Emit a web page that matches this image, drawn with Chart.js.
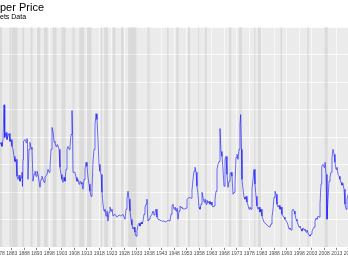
<!DOCTYPE html>
<html>
<head>
<meta charset="utf-8">
<script src="https://cdn.jsdelivr.net/npm/chart.js@4/dist/chart.umd.min.js"></script>
<style>
html, body { margin: 0; padding: 0; width: 348px; height: 268px; overflow: hidden; background: #fff; }
#wrap { position: absolute; left: -40px; top: 0; width: 420px; height: 268px; }
</style>
</head>
<body>
<div id="wrap"><canvas id="chart" width="420" height="268"></canvas></div>
<script>
// the picture is a crop of a wider chart: the canvas sticks out 40px to the left
var CROP_LEFT = 40;

var titleText = "Copper Price";
var titleHidden = "Cop";
var subtitleText = "Commodity Markets Data";
var subtitleHidden = "Commodity Mark";

var years = [
    1878.32, 1878.72, 1879.12, 1879.52, 1879.92, 1880.12, 1880.32, 1880.72, 1881.12, 1881.52,
    1881.92, 1882.32, 1882.72, 1883.12, 1883.52, 1883.92, 1884.32, 1884.72, 1885.12, 1885.52,
    1885.92, 1886.32, 1886.72, 1887.12, 1887.32, 1887.52, 1887.72, 1888.32, 1888.72, 1889.12,
    1889.32, 1889.52, 1889.92, 1890.32, 1890.72, 1891.12, 1891.52, 1891.92, 1892.32, 1892.72,
    1893.12, 1893.52, 1894.32, 1894.72, 1895.12, 1895.92, 1896.32, 1897.12, 1897.52, 1897.92,
    1898.32, 1898.72, 1899.12, 1899.52, 1899.92, 1900.32, 1900.72, 1901.12, 1901.52, 1901.92,
    1902.32, 1902.72, 1903.12, 1903.52, 1903.92, 1904.32, 1904.72, 1905.12, 1905.52, 1905.92,
    1906.32, 1906.72, 1907.12, 1907.32, 1907.52, 1908.32, 1908.72, 1909.12, 1909.52, 1909.92,
    1910.32, 1910.72, 1911.12, 1911.52, 1911.92, 1912.32, 1912.72, 1913.12, 1913.52, 1913.92,
    1914.32, 1914.72, 1915.12, 1915.52, 1915.92, 1916.32, 1916.72, 1917.12, 1917.52, 1917.92,
    1918.32, 1918.72, 1919.12, 1919.52, 1919.92, 1920.32, 1920.72, 1921.12, 1921.52, 1921.92,
    1922.32, 1922.72, 1923.12, 1923.52, 1924.32, 1925.12, 1925.92, 1926.72, 1927.52, 1928.32,
    1928.72, 1929.12, 1929.52, 1929.92, 1930.32, 1930.72, 1931.12, 1931.52, 1931.92, 1932.32,
    1932.72, 1933.12, 1933.52, 1933.92, 1934.32, 1934.72, 1935.12, 1935.52, 1935.92, 1936.32,
    1936.72, 1937.12, 1937.32, 1937.52, 1937.92, 1938.32, 1939.12, 1939.52, 1939.92, 1940.32,
    1940.72, 1941.12, 1941.52, 1942.32, 1943.12, 1943.92, 1944.72, 1945.52, 1946.32, 1946.72,
    1947.12, 1947.52, 1947.92, 1948.32, 1948.72, 1949.12, 1949.52, 1949.92, 1950.32, 1950.72,
    1951.12, 1951.92, 1952.72, 1953.12, 1953.92, 1954.72, 1955.12, 1955.52, 1955.92, 1956.32,
    1956.72, 1957.12, 1957.52, 1957.92, 1958.32, 1958.72, 1959.12, 1959.52, 1959.92, 1960.32,
    1960.72, 1961.12, 1961.52, 1961.92, 1962.32, 1962.72, 1963.12, 1963.52, 1963.92, 1964.32,
    1964.72, 1965.12, 1965.52, 1965.92, 1966.32, 1966.52, 1966.72, 1967.12, 1967.52, 1967.92,
    1968.32, 1968.72, 1969.12, 1969.52, 1969.92, 1970.32, 1970.72, 1971.12, 1971.52, 1971.92,
    1972.32, 1972.72, 1973.12, 1973.52, 1973.92, 1974.32, 1974.60, 1974.92, 1975.12, 1975.52,
    1975.92, 1976.32, 1976.72, 1977.12, 1977.52, 1977.92, 1978.32, 1978.72, 1979.12, 1979.52,
    1979.92, 1980.32, 1980.72, 1981.12, 1981.52, 1981.92, 1982.32, 1982.72, 1983.12, 1983.52,
    1983.92, 1984.72, 1985.52, 1986.32, 1986.72, 1987.12, 1987.52, 1987.92, 1988.32, 1988.72,
    1989.12, 1989.52, 1989.92, 1990.32, 1990.72, 1991.12, 1991.52, 1991.92, 1992.32, 1993.12,
    1993.52, 1993.92, 1994.32, 1994.72, 1995.12, 1995.52, 1995.92, 1996.32, 1996.72, 1997.12,
    1997.52, 1997.92, 1998.32, 1998.72, 1999.12, 1999.52, 1999.92, 2000.32, 2000.72, 2001.12,
    2001.52, 2001.92, 2002.32, 2002.72, 2003.12, 2003.52, 2003.92, 2004.32, 2004.72, 2005.12,
    2005.52, 2005.92, 2006.32, 2006.72, 2006.92, 2007.12, 2007.52, 2007.92, 2008.32, 2008.72,
    2009.12, 2009.52, 2009.92, 2010.32, 2010.72, 2011.12, 2011.52, 2011.92, 2012.32, 2012.72,
    2013.12, 2013.52, 2013.92, 2014.32, 2014.72, 2015.12, 2015.52, 2015.92, 2016.32, 2016.72,
    2017.12, 2017.52, 2018.32, 2019.12
];

var price = [
    4750, 4830, 4680, 4940, 6260, 5510, 5020, 5210, 4940, 5090,
    5170, 4870, 4940, 4680, 4570, 4300, 4110, 4190, 3550, 3430,
    3590, 3360, 3510, 3700, 3170, 4190, 4870, 4940, 4830, 4980,
    4750, 3430, 4570, 4830, 4640, 4570, 3360, 3620, 3740, 3550,
    3740, 3620, 3130, 3430, 3550, 3320, 3510, 3620, 3810, 3700,
    3890, 4570, 5400, 5250, 4870, 4830, 4680, 4750, 4720, 4570,
    3890, 3620, 3430, 3320, 3510, 3360, 3810, 4570, 4680, 4570,
    4680, 5130, 6040, 5320, 3700, 3700, 3510, 3360, 3430, 3250,
    3360, 3320, 3250, 3060, 3430, 3810, 4080, 3920, 3510, 3250,
    2980, 2790, 3060, 4110, 4570, 5510, 5920, 5700, 4940, 4000,
    3740, 3620, 2940, 2490, 2230, 2300, 2040, 2230, 1850, 2190,
    2380, 2230, 2300, 2040, 2110, 2000, 2080, 2040, 2110, 1920,
    2300, 2680, 2980, 2680, 2230, 1920, 1700, 1550, 1620, 1430,
    1280, 1470, 1700, 1770, 1660, 1810, 1740, 1850, 2110, 2380,
    2490, 2680, 2110, 1850, 1920, 2000, 2110, 2230, 2080, 2190,
    2300, 2000, 1920, 1890, 1850, 1850, 1810, 1890, 1850, 2110,
    2420, 2490, 2300, 2380, 2230, 2340, 1920, 2230, 2420, 2380,
    2340, 2300, 2340, 2680, 2750, 2720, 3020, 3430, 3740, 3890,
    3700, 3170, 2870, 2380, 2300, 2490, 2940, 2750, 2570, 2680,
    2490, 2640, 2530, 2600, 2490, 2570, 2450, 2380, 2420, 2680,
    2980, 3810, 4000, 4110, 5360, 4940, 4490, 4300, 3810, 3170,
    4190, 4300, 3620, 3130, 3360, 3620, 3700, 3550, 2870, 2940,
    3250, 4260, 4380, 4190, 4570, 5510, 5890, 4570, 3430, 3060,
    2750, 2680, 2790, 2570, 2450, 2300, 2380, 2300, 3060, 3430,
    3810, 3250, 2790, 2420, 2300, 2380, 2190, 2300, 2040, 1920,
    1810, 1740, 1660, 1620, 1740, 2000, 2300, 2750, 2980, 2870,
    2490, 2380, 2450, 2300, 2380, 2110, 2040, 2000, 1920, 1810,
    1700, 1550, 1590, 1510, 2230, 2300, 2230, 2110, 1920, 1850,
    1740, 1620, 1660, 1550, 1470, 1590, 1510, 1550, 1430, 1510,
    1400, 1320, 1280, 1360, 1470, 1550, 1620, 1850, 1960, 1920,
    2040, 2000, 2490, 3250, 3810, 3920, 4000, 3890, 4080, 3620,
    1920, 2680, 3360, 3510, 3700, 4260, 4570, 4380, 4080, 3810,
    3890, 3620, 3550, 3430, 3320, 3210, 3280, 3060, 2490, 2300,
    2680, 2830, 2980, 2870
];

// US recessions (NBER), decimal years
var recessionStart = [1873.75, 1882.17, 1887.17, 1890.50, 1893.00, 1895.92, 1899.42, 1902.67, 1907.33, 1910.00,
    1913.00, 1918.58, 1920.00, 1923.33, 1926.75, 1929.58, 1937.33, 1945.08, 1948.83, 1953.50,
    1957.58, 1960.25, 1969.92, 1973.83, 1980.00, 1981.50, 1990.50, 2001.17, 2007.92, 2020.08];
var recessionEnd = [1879.17, 1885.33, 1888.25, 1891.33, 1894.42, 1897.42, 1900.92, 1904.58, 1908.42, 1912.00,
    1914.92, 1919.17, 1921.50, 1924.50, 1927.83, 1933.17, 1938.42, 1945.75, 1949.75, 1954.33,
    1958.25, 1961.08, 1970.83, 1975.17, 1980.50, 1982.83, 1991.17, 2001.83, 2009.42, 2020.25];

var tickYears = [1873, 1878, 1883, 1888, 1893, 1898, 1903, 1908, 1913, 1918, 1923, 1928, 1933, 1938, 1943,
    1948, 1953, 1958, 1963, 1968, 1973, 1978, 1983, 1988, 1993, 1998, 2003, 2008, 2013, 2018, 2023];

var points = [];
for (let i = 0; i < years.length; i++) {
    points.push({ x: years[i], y: price[i] });
}

var ggPanel = {
    id: 'ggPanel',
    beforeDraw(chart) {
        const { ctx, chartArea: a } = chart;
        ctx.save();
        ctx.fillStyle = '#ebebeb';
        ctx.fillRect(a.left, a.top, a.right - a.left, a.bottom - a.top);

        ctx.fillStyle = '#000000';
        ctx.textBaseline = 'alphabetic';
        ctx.font = '11px "Liberation Sans", Arial, sans-serif';
        ctx.fillText(titleText, CROP_LEFT - ctx.measureText(titleHidden).width, 11);
        ctx.font = '7px "Liberation Sans", Arial, sans-serif';
        ctx.fillText(subtitleText, CROP_LEFT - ctx.measureText(subtitleHidden).width, 19);
        ctx.restore();
    },
    beforeDatasetsDraw(chart) {
        const { ctx, chartArea: a } = chart;
        const xs = chart.scales.x;
        ctx.save();
        ctx.beginPath();
        ctx.rect(a.left, a.top, a.right - a.left, a.bottom - a.top);
        ctx.clip();
        ctx.fillStyle = 'rgba(0,0,0,0.07)';
        for (let i = 0; i < recessionStart.length; i++) {
            const x0 = xs.getPixelForValue(recessionStart[i]);
            const x1 = xs.getPixelForValue(recessionEnd[i]);
            ctx.fillRect(x0, a.top, x1 - x0, a.bottom - a.top);
        }
        ctx.restore();
    }
};

new Chart(document.getElementById('chart').getContext('2d'), {
    type: 'line',
    data: {
        datasets: [{
            data: points,
            borderColor: '#0000ff',
            borderWidth: 0.55,
            pointRadius: 0,
            tension: 0,
            fill: false
        }]
    },
    options: {
        responsive: false,
        animation: false,
        layout: { padding: { left: 10, right: 12, top: 27, bottom: 10 } },
        plugins: {
            legend: { display: false },
            tooltip: { enabled: false }
        },
        scales: {
            x: {
                type: 'linear',
                min: 1866.32,
                max: 2025.52,
                afterBuildTicks: function (scale) {
                    scale.ticks = tickYears.map(function (v) { return { value: v }; });
                },
                ticks: {
                    autoSkip: false,
                    maxRotation: 0,
                    minRotation: 0,
                    padding: 1,
                    color: '#4d4d4d',
                    font: { size: 5, family: '"Liberation Sans", Arial, sans-serif' },
                    callback: function (v) { return String(v); }
                },
                grid: { color: '#ffffff', lineWidth: 0.6, tickColor: '#333333', tickLength: 3 },
                border: { display: false }
            },
            y: {
                min: 868,
                max: 9208,
                ticks: { display: false, stepSize: 1000, includeBounds: false },
                grid: { color: '#ffffff', lineWidth: 0.8, drawTicks: false },
                border: { display: false }
            }
        }
    },
    plugins: [ggPanel]
});
</script>
</body>
</html>
